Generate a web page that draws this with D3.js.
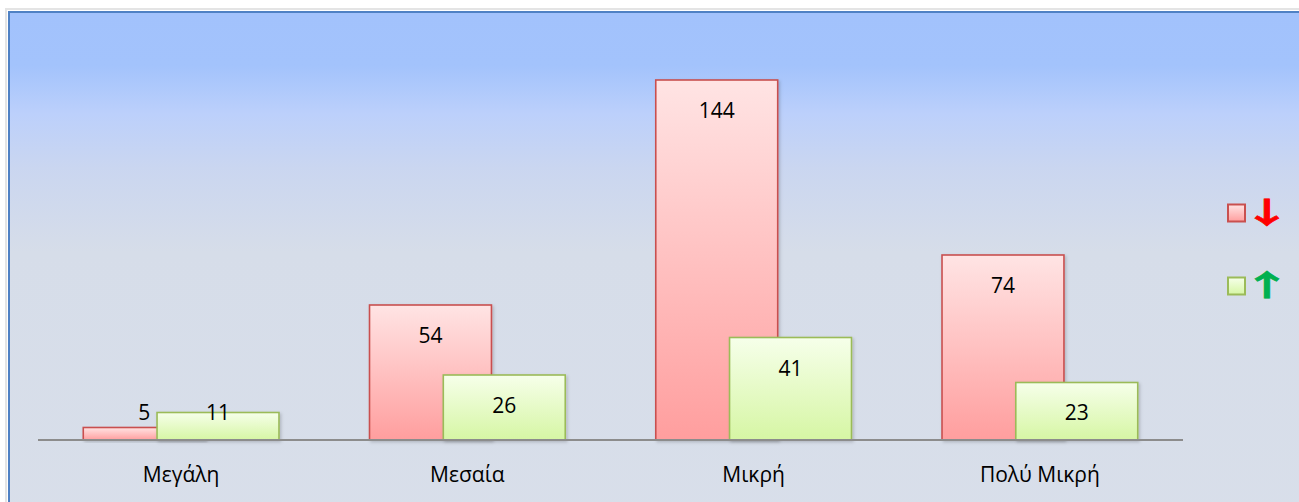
<!DOCTYPE html>
<html>
<head>
<meta charset="utf-8">
<script src="https://cdn.jsdelivr.net/npm/d3@7"></script>
<style>
  html, body { margin: 0; padding: 0; background: #ffffff; overflow: hidden; }
  svg { display: block; }
</style>
</head>
<body>
<svg id="chart" width="1299" height="502"></svg>
<script>
// Categories and the two series (decrease ↓, increase ↑)
const categories = ["Μεγάλη", "Μεσαία", "Μικρή", "Πολύ Μικρή"];
const seriesNames = ["↓", "↑"];
const downValues = [5, 54, 144, 74];
const upValues = [11, 26, 41, 23];

const W = 1299, H = 502;
const plot = { left: 38, right: 1183, top: 80, bottom: 440 };

const svg = d3.select("#chart");
const defs = svg.append("defs");

// Chart-area background gradient
const bg = defs.append("linearGradient").attr("id", "bgGrad")
  .attr("x1", 0).attr("y1", 0).attr("x2", 0).attr("y2", 1);
[["0%", "#a2c2fc"], ["9%", "#a3c3fc"], ["17%", "#bcd0fb"], ["26%", "#cad6f0"],
 ["40%", "#d6dde9"], ["100%", "#d9dfea"]]
  .forEach(([o, c]) => bg.append("stop").attr("offset", o).attr("stop-color", c));

// Bar gradients
const redGrad = defs.append("linearGradient").attr("id", "redGrad")
  .attr("x1", 0).attr("y1", 0).attr("x2", 0).attr("y2", 1);
redGrad.append("stop").attr("offset", "0%").attr("stop-color", "#ffe4e4");
redGrad.append("stop").attr("offset", "100%").attr("stop-color", "#ff9e9e");
const greenGrad = defs.append("linearGradient").attr("id", "greenGrad")
  .attr("x1", 0).attr("y1", 0).attr("x2", 0).attr("y2", 1);
greenGrad.append("stop").attr("offset", "0%").attr("stop-color", "#f6ffea");
greenGrad.append("stop").attr("offset", "100%").attr("stop-color", "#d6f6a4");

const shadow = defs.append("filter").attr("id", "barShadow")
  .attr("x", "-10%").attr("y", "-10%").attr("width", "130%").attr("height", "130%");
shadow.append("feDropShadow").attr("dx", 1.5).attr("dy", 1.5)
  .attr("stdDeviation", 1.5).attr("flood-color", "#000").attr("flood-opacity", 0.18);

// Outer shadow line and chart-area frame
svg.append("rect").attr("x", 6).attr("y", 9).attr("width", 1400).attr("height", 600)
  .attr("fill", "none").attr("stroke", "#e4e4e4").attr("stroke-width", 2);
svg.append("rect").attr("x", 9).attr("y", 12).attr("width", 1400).attr("height", 600)
  .attr("fill", "url(#bgGrad)").attr("stroke", "#4f81c4").attr("stroke-width", 2);

// Scales
const x = d3.scaleBand().domain(categories).range([plot.left, plot.right]).paddingInner(0);
const yMax = d3.max(downValues.concat(upValues));
const y = d3.scaleLinear().domain([0, yMax]).range([plot.bottom, plot.top]);

const barW = x.bandwidth() * 0.426;
const shift = barW * 0.605;
const groupW = barW + shift;

const series = [
  { name: seriesNames[0], values: downValues, fill: "url(#redGrad)", stroke: "#c9504f", idx: 0 },
  { name: seriesNames[1], values: upValues, fill: "url(#greenGrad)", stroke: "#9bbb59", idx: 1 }
];

const fontFam = "'Open Sans', 'DejaVu Sans', sans-serif";

series.forEach(s => {
  const g = svg.append("g");
  g.selectAll("rect").data(categories).join("rect")
    .attr("x", c => x(c) + x.bandwidth() / 2 - groupW / 2 + s.idx * shift)
    .attr("y", (c, i) => y(s.values[i]))
    .attr("width", barW)
    .attr("height", (c, i) => y(0) - y(s.values[i]))
    .attr("fill", s.fill)
    .attr("stroke", s.stroke)
    .attr("stroke-width", 1.6)
    .attr("filter", "url(#barShadow)");
});

// Value labels near the inside end of each bar
series.forEach(s => {
  svg.append("g").selectAll("text").data(categories).join("text")
    .attr("x", c => x(c) + x.bandwidth() / 2 - groupW / 2 + s.idx * shift + barW / 2)
    .attr("y", (c, i) => Math.min(y(s.values[i]) + 38, plot.bottom - 20))
    .attr("text-anchor", "middle")
    .attr("font-family", fontFam)
    .attr("font-size", 21)
    .attr("fill", "#000")
    .text((c, i) => s.values[i]);
});

// Category axis
const axis = svg.append("g").attr("transform", `translate(0,${plot.bottom})`)
  .call(d3.axisBottom(x).tickSize(0).tickPadding(0));
axis.select(".domain").attr("stroke", "#8c8c8c").attr("stroke-width", 2)
  .attr("d", `M${plot.left},0H${plot.right}`);
axis.selectAll(".tick text")
  .attr("y", 42).attr("dy", null)
  .attr("font-family", fontFam).attr("font-size", 21).attr("fill", "#000");

// Legend: swatch plus a bold, widened arrow glyph for each series
const legend = svg.append("g");
const legendItems = [
  { name: seriesNames[0], fill: "url(#redGrad)", stroke: "#c9504f", color: "#ff0000", y: 213 },
  { name: seriesNames[1], fill: "url(#greenGrad)", stroke: "#9bbb59", color: "#00b050", y: 286 }
];
legendItems.forEach(it => {
  legend.append("rect").attr("x", 1228).attr("y", it.y - 8.5).attr("width", 17).attr("height", 17)
    .attr("fill", it.fill).attr("stroke", it.stroke).attr("stroke-width", 2);
  legend.append("text")
    .attr("transform", `translate(1267,${it.y}) scale(1.8,1.05)`)
    .attr("dy", "0.35em")
    .attr("text-anchor", "middle")
    .attr("font-family", "'Noto Sans CJK SC', 'DejaVu Sans', sans-serif").attr("font-weight", "bold")
    .attr("font-size", 28).attr("fill", it.color)
    .attr("stroke", it.color).attr("stroke-width", 0.6)
    .text(it.name);
});
</script>
</body>
</html>
